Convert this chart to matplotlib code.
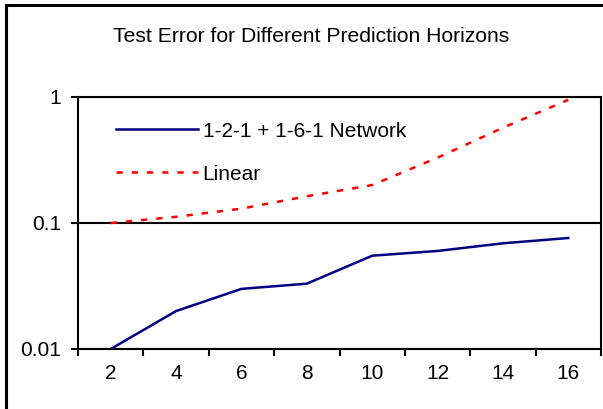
import matplotlib
matplotlib.use("Agg")
import matplotlib.pyplot as plt
from matplotlib.patches import Rectangle
from matplotlib.ticker import FixedLocator, FuncFormatter, NullLocator

plt.rcParams['font.family'] = ['Liberation Sans', 'DejaVu Sans']

horizons = [2, 4, 6, 8, 10, 12, 14, 16]
network = [0.01, 0.02, 0.03, 0.033, 0.055, 0.06, 0.069, 0.076]
linear = [0.1, 0.112, 0.13, 0.163, 0.2, 0.33, 0.57, 0.95]
series_labels = ["1-2-1 + 1-6-1 Network", "Linear"]
title = "Test Error for Different Prediction Horizons"
ytick_vals = [0.01, 0.1, 1]
ytick_labels = ["0.01", "0.1", "1"]

FS = 15
W, H = 603, 409
fig = plt.figure(figsize=(W / 100, H / 100), dpi=100)
fig.patch.set_facecolor('white')

ax = fig.add_axes([78 / W, 1 - 349 / H, (601 - 78) / W, (349 - 97) / H])
ax.plot(horizons, network, color='#000080', lw=1.8, label=series_labels[0])
ax.plot(horizons, linear, color='#ff0000', lw=1.8, dashes=(2.5, 3.6),
        label=series_labels[1])

ax.set_yscale('log')
ax.set_ylim(0.01, 1)
ax.set_xlim(1, 17)
ax.yaxis.set_major_locator(FixedLocator(ytick_vals))
ax.yaxis.set_major_formatter(FuncFormatter(
    lambda v, p: ytick_labels[ytick_vals.index(min(ytick_vals, key=lambda t: abs(t - v)))]))
ax.yaxis.set_minor_locator(NullLocator())
ax.xaxis.set_major_locator(FixedLocator(horizons))
ax.xaxis.set_minor_locator(FixedLocator([h - 1 for h in horizons] + [horizons[-1] + 1]))
ax.tick_params(axis='x', which='major', length=0, pad=11, labelsize=FS)
ax.tick_params(axis='x', which='minor', length=5, width=1.5, direction='out')
ax.tick_params(axis='y', which='major', length=5, width=1.5, direction='out', pad=7,
               labelsize=FS)
for s in ax.spines.values():
    s.set_linewidth(1.5)
ax.grid(True, axis='y', which='major', color='black', lw=1.5)
ax.set_axisbelow(True)

leg = ax.legend(loc='upper left', bbox_to_anchor=(0.073, 0.902), frameon=False,
                fontsize=FS, handlelength=3.95, handletextpad=0.2, labelspacing=1.15,
                borderaxespad=0, borderpad=0)

fig.text(311 / W, 1 - 37 / H, title, ha='center', va='center', fontsize=15.2)

fig.add_artist(Rectangle((6 / W, -0.1), 2, 1 - 5 / H + 0.1, transform=fig.transFigure,
                         fill=False, lw=2.2, edgecolor='black', clip_on=False))

fig.savefig('out.png', dpi=100)
